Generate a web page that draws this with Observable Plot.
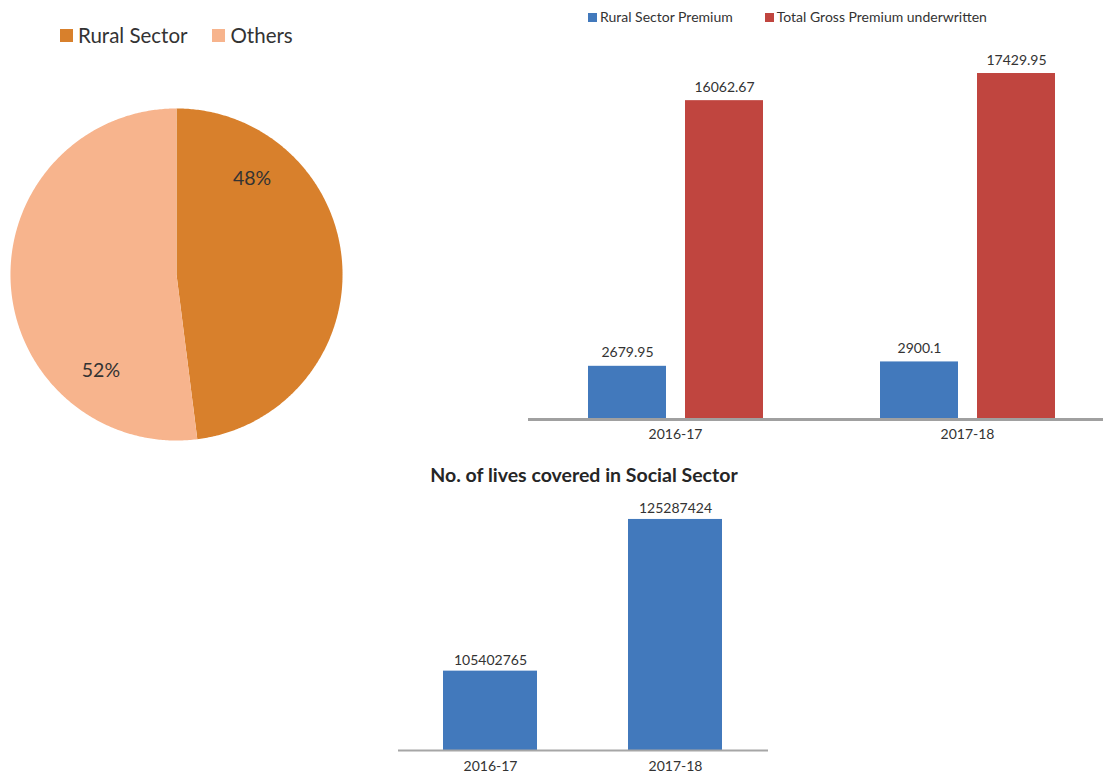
<!DOCTYPE html>
<html><head><meta charset="utf-8">
<script src="https://cdn.jsdelivr.net/npm/d3@7"></script>
<script src="https://cdn.jsdelivr.net/npm/@observablehq/plot@0.6"></script>
<style>
body{margin:0;background:#fff;font-family:Lato,sans-serif;color:#333}
#root{position:relative;width:1103px;height:773px;overflow:hidden}
.abs{position:absolute}
.leg{display:flex;align-items:center;white-space:nowrap;line-height:1}
.sw{display:inline-block}
</style></head><body><div id="root"></div>
<script>
// ---- data ----
const pieCategories = ["Rural Sector", "Others"];
const pieShares = [48, 52];
const pieColors = ["#D8802C", "#F7B48D"];

const years = ["2016-17", "2017-18"];
const premiumSeries = ["Rural Sector Premium", "Total Gross Premium underwritten"];
const ruralPremium = [2679.95, 2900.1];
const totalPremium = [16062.67, 17429.95];
const premiumColors = ["#4279BC", "#C0453F"];

const livesTitle = "No. of lives covered in Social Sector";
const livesCovered = [105402765, 125287424];
const livesColor = "#4279BC";

const root = document.getElementById("root");
function place(el, left, top) { el.classList.add("abs"); el.style.left = left + "px"; el.style.top = top + "px"; root.appendChild(el); return el; }

// ---- pie legend ----
const pieLeg = document.createElement("div");
pieLeg.className = "leg";
pieLeg.style.fontSize = "20.5px";
pieCategories.forEach((c, i) => {
  const sw = document.createElement("span"); sw.className = "sw";
  sw.style.cssText = `width:13px;height:13px;background:${pieColors[i]};margin-right:5px;margin-left:${i ? 25 : 0}px`;
  const t = document.createElement("span"); t.textContent = c;
  pieLeg.append(sw, t);
});
place(pieLeg, 60, 25);

// ---- pie ----
const arcs = d3.pie().sort(null).value(d => d)(pieShares);
const pieRows = [];
arcs.forEach((a, i) => {
  const n = Math.max(2, Math.ceil((a.endAngle - a.startAngle) / 0.01));
  pieRows.push({k: pieCategories[i], x: 0, y: 0});
  for (let j = 0; j <= n; j++) {
    const t = a.startAngle + (a.endAngle - a.startAngle) * j / n;
    pieRows.push({k: pieCategories[i], x: Math.sin(t), y: Math.cos(t)});
  }
  pieRows.push({k: pieCategories[i], x: 0, y: 0});
});
const pieLabels = arcs.map((a, i) => {
  const t = (a.startAngle + a.endAngle) / 2 - 0.84;
  return {x: 0.735 * Math.sin(t), y: 0.735 * Math.cos(t), text: pieShares[i] + "%"};
});
const pie = Plot.plot({
  width: 352, height: 352, margin: 0,
  x: {domain: [-1.06, 1.06], axis: null},
  y: {domain: [-1.06, 1.06], axis: null},
  color: {domain: pieCategories, range: pieColors},
  style: {fontFamily: "Lato", color: "#333", background: "transparent"},
  marks: [
    Plot.line(pieRows, {x: "x", y: "y", z: "k", fill: "k", stroke: "none", curve: "linear"}),
    Plot.text(pieLabels, {x: "x", y: "y", text: "text", fontSize: 19.5, fill: "#333"})
  ]
});
place(pie, 0, 97.5);

// ---- premium legend ----
const premLeg = document.createElement("div");
premLeg.className = "leg";
premLeg.style.fontSize = "14px";
premiumSeries.forEach((c, i) => {
  const sw = document.createElement("span"); sw.className = "sw";
  sw.style.cssText = `width:9px;height:9px;background:${premiumColors[i]};margin-right:3px;margin-left:${i ? 32 : 0}px`;
  const t = document.createElement("span"); t.textContent = c;
  premLeg.append(sw, t);
});
place(premLeg, 588, 10);

// ---- premium chart ----
const premRows = [];
years.forEach((yr, i) => {
  premRows.push({year: yr, series: premiumSeries[0], value: ruralPremium[i]});
  premRows.push({year: yr, series: premiumSeries[1], value: totalPremium[i]});
});
const prem = Plot.plot({
  width: 584, height: 427, marginLeft: 0, marginRight: 0, marginTop: 0, marginBottom: 30,
  fx: {domain: years, padding: 0, label: null, axis: "bottom", tickSize: 0, tickPadding: 10},
  x: {domain: premiumSeries, paddingInner: 0.196, paddingOuter: 0.603, axis: null},
  y: {domain: [0, 20000], axis: null},
  color: {domain: premiumSeries, range: premiumColors},
  style: {fontFamily: "Lato", fontSize: "14px", color: "#333", background: "transparent", overflow: "visible"},
  marks: [
    Plot.barY(premRows, {fx: "year", x: "series", y: "value", fill: "series"}),
    Plot.text(premRows, {fx: "year", x: "series", y: "value", text: d => String(d.value), lineAnchor: "bottom", dy: -9, fill: "#333", fontSize: 14}),
    Plot.frame({facet: "super", anchor: "bottom", stroke: "#a0a0a0", strokeWidth: 3})
  ]
});
place(prem, 528.5, 22);

// ---- lives title ----
const title = document.createElement("div");
title.textContent = livesTitle;
title.style.cssText = "width:400px;text-align:center;font-weight:bold;font-size:19.5px;line-height:1;color:#262626";
place(title, 384, 465);

// ---- lives chart ----
const livesRows = years.map((yr, i) => ({year: yr, value: livesCovered[i]}));
const lives = Plot.plot({
  width: 410, height: 290, marginLeft: 20, marginRight: 20, marginTop: 0, marginBottom: 23,
  x: {domain: years, paddingInner: 0.49, paddingOuter: 0.245, label: null, tickSize: 0, tickPadding: 11},
  y: {domain: [95e6, 130e6], axis: null},
  style: {fontFamily: "Lato", fontSize: "14px", color: "#333", background: "transparent", overflow: "visible"},
  marks: [
    Plot.barY(livesRows, {x: "year", y: "value", fill: livesColor, clip: true}),
    Plot.text(livesRows, {x: "year", y: "value", text: d => String(d.value), lineAnchor: "bottom", dy: -6, fill: "#333", fontSize: 14}),
    Plot.ruleY([95e6], {stroke: "#a6a6a6", strokeWidth: 2})
  ]
});
place(lives, 378, 483);
</script></body></html>
